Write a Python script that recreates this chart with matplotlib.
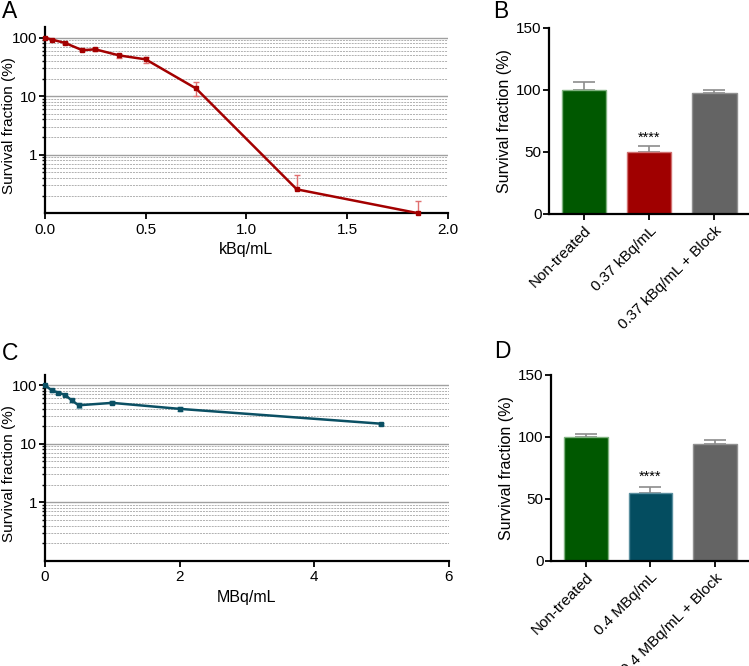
import matplotlib.pyplot as plt
import numpy as np

plt.rcParams['font.family'] = ['Liberation Sans', 'DejaVu Sans']

# panel A: kBq/mL dose curve
dose_a = [0, 0.037, 0.1, 0.185, 0.25, 0.37, 0.5, 0.75, 1.25, 1.85]
surv_a = [100, 92, 81, 61, 63, 49.5, 42.5, 13.5, 0.255, 0.1]
err_a_lo = [0, 2, 3, 3, 3, 4, 5, 3.5, 0, 0]
err_a_hi = [0, 2, 3, 3, 3, 4, 5, 4, 0.185, 0.06]

# panel C: MBq/mL dose curve
dose_c = [0, 0.1, 0.2, 0.3, 0.4, 0.5, 1, 2, 5]
surv_c = [100, 82, 75, 68, 55, 45.5, 50, 39.5, 22]
err_c = [2, 4, 3, 3, 4, 4, 3, 3, 1]

# panels B and D: bars
groups_b = ['Non-treated', '0.37 kBq/mL', '0.37 kBq/mL + Block']
vals_b = [100, 50, 97.5]
err_b = [6, 5, 2.8]

groups_d = ['Non-treated', '0.4 MBq/mL', '0.4 MBq/mL + Block']
vals_d = [100, 54.7, 94]
err_d = [2, 5, 3.5]

green = '#005800'
red = '#A00000'
grey = '#646464'
teal = '#044D60'

fig = plt.figure(figsize=(7.49, 6.66), dpi=100)


def log_panel(ax, x, y, lo, hi, color, ecolor, xlim, xticks, xticklabels, xlabel):
    ax.set_yscale('log')
    ax.set_ylim(0.1, 150)
    ax.set_xlim(*xlim)
    # grid lines: solid at decades, dashed in between
    for dec in [1, 10, 100]:
        ax.axhline(dec, color='#a0a0a0', lw=1.0, zorder=0)
    for dec in [0.1, 1, 10]:
        for m in range(2, 10):
            ax.axhline(dec * m, color='#b0b0b0', lw=0.7, ls=(0, (2, 1)), zorder=0)
    ax.errorbar(x, y, yerr=[lo, hi], fmt='none', ecolor=ecolor, elinewidth=1,
                capsize=2.5, capthick=1, zorder=2)
    ax.plot(x, y, color=color, lw=1.8, marker='s', ms=3, zorder=3, clip_on=False)
    ax.set_yticks([1, 10, 100])
    ax.set_yticklabels(['1', '10', '100'])
    ax.set_xticks(xticks)
    ax.set_xticklabels(xticklabels)
    ax.set_ylabel('Survival fraction (%)', fontsize=11)
    ax.yaxis.set_label_coords(-0.072, 0.47)
    ax.set_xlabel(xlabel, fontsize=11.5, labelpad=4)
    ax.spines['top'].set_visible(False)
    ax.spines['right'].set_visible(False)
    ax.spines['left'].set_linewidth(1.6)
    ax.spines['bottom'].set_linewidth(1.6)
    ax.tick_params(axis='x', which='major', labelsize=11, width=1.3, length=4, pad=3)
    ax.tick_params(axis='y', which='major', labelsize=11, width=1.3, length=4, pad=1.5)
    ax.tick_params(axis='y', which='minor', width=1, length=2)


def bar_panel(ax, groups, vals, errs, colors, edges, star_y):
    pos = np.arange(len(groups))
    ax.bar(pos, vals, width=0.68, color=colors, edgecolor=edges, lw=1, zorder=2)
    ax.errorbar(pos, vals, yerr=[[0] * len(errs), errs], fmt='none',
                ecolor='#8c8c8c', elinewidth=1.2, capsize=8, capthick=1.2, zorder=1)
    ax.text(1, star_y, '****', ha='center', va='center', fontsize=10.5)
    ax.set_xlim(-0.54, 2.52)
    ax.set_ylim(0, 150)
    ax.set_yticks([0, 50, 100, 150])
    ax.set_xticks(pos)
    ax.set_xticklabels(groups, rotation=45, ha='right', rotation_mode='anchor')
    ax.set_ylabel('Survival fraction (%)', fontsize=11.5, labelpad=3)
    ax.spines['top'].set_visible(False)
    ax.spines['right'].set_visible(False)
    ax.spines['left'].set_linewidth(1.6)
    ax.spines['bottom'].set_linewidth(1.6)
    ax.tick_params(axis='x', labelsize=11, width=1.3, length=4, pad=3)
    ax.tick_params(axis='y', labelsize=11, width=1.3, length=4, pad=1.5)


axA = fig.add_axes([0.060, 0.680, 0.538, 0.279])
log_panel(axA, dose_a, surv_a, err_a_lo, err_a_hi, '#A30000', '#E07070',
          (0, 2.0), [0, 0.5, 1.0, 1.5, 2.0], ['0.0', '0.5', '1.0', '1.5', '2.0'], 'kBq/mL')

axB = fig.add_axes([0.733, 0.679, 0.266, 0.279])
bar_panel(axB, groups_b, vals_b, err_b, [green, red, grey],
          ['#7fb27f', '#d07070', '#909090'], 61)

axC = fig.add_axes([0.060, 0.158, 0.539, 0.279])
log_panel(axC, dose_c, surv_c, err_c, err_c, '#0B5064', '#7aa8b5',
          (0, 6), [0, 2, 4, 6], ['0', '2', '4', '6'], 'MBq/mL')

axD = fig.add_axes([0.736, 0.158, 0.263, 0.279])
bar_panel(axD, groups_d, vals_d, err_d, [green, teal, grey],
          ['#7fb27f', '#5a8f9f', '#909090'], 68)

fig.text(0.002, 0.973, 'A', fontsize=16.5, va='baseline')
fig.text(0.658, 0.973, 'B', fontsize=16.5, va='baseline')
fig.text(0.002, 0.459, 'C', fontsize=16.5, va='baseline')
fig.text(0.660, 0.4625, 'D', fontsize=16.5, va='baseline')

plt.savefig('out.png', dpi=100)
